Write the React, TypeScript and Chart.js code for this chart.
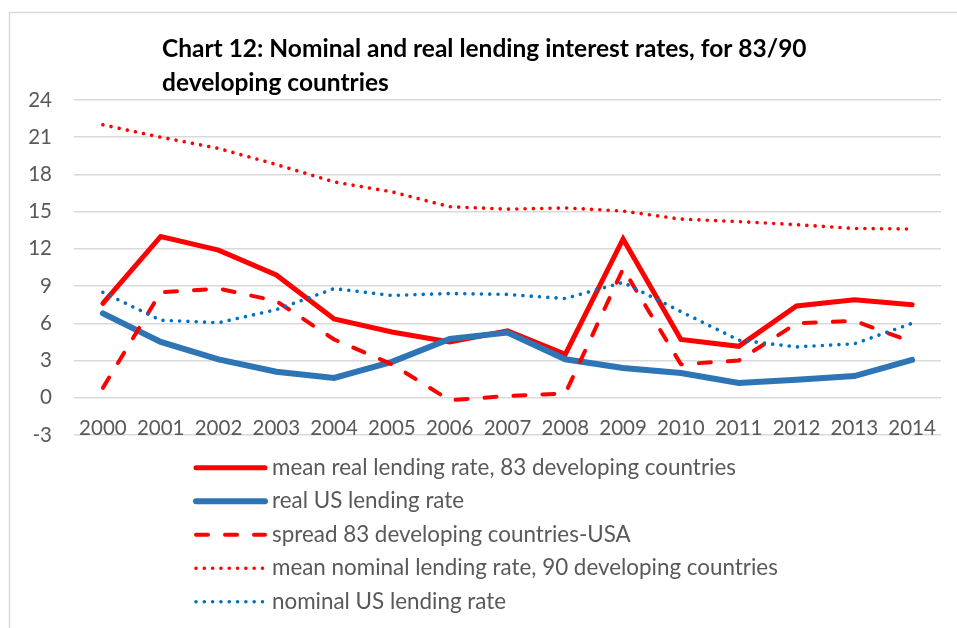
import { useEffect, useRef } from "react";
import { Chart, registerables } from "chart.js";

Chart.register(...registerables);

const years = ["2000", "2001", "2002", "2003", "2004", "2005", "2006", "2007", "2008", "2009", "2010", "2011", "2012", "2013", "2014"];
const meanRealDev = [7.6, 13.0, 11.9, 9.9, 6.35, 5.3, 4.5, 5.4, 3.5, 12.8, 4.7, 4.15, 7.4, 7.9, 7.5];
const realUS = [6.8, 4.5, 3.1, 2.1, 1.6, 2.9, 4.75, 5.25, 3.1, 2.4, 2.0, 1.2, 1.45, 1.75, 3.05];
const spreadDevUS = [0.8, 8.5, 8.8, 7.8, 4.7, 2.7, -0.2, 0.15, 0.35, 10.4, 2.7, 3.0, 6.0, 6.2, 4.5];
const meanNominalDev = [22.0, 21.0, 20.1, 18.8, 17.4, 16.6, 15.4, 15.2, 15.3, 15.05, 14.4, 14.2, 13.95, 13.65, 13.6];
const nominalUS = [8.5, 6.25, 6.05, 7.1, 8.8, 8.25, 8.4, 8.33, 8.0, 9.3, 6.95, 4.65, 4.1, 4.35, 6.0];

const seriesNames = [
  "mean real lending rate, 83 developing countries",
  "real US lending rate",
  "spread 83 developing countries-USA",
  "mean nominal lending rate, 90 developing countries",
  "nominal US lending rate",
];
const titleLines = ["Chart 12: Nominal and real lending interest rates, for 83/90", "developing countries"];
const yMin = -3;
const yMax = 24;
const yStep = 3;

const FONT = "Lato, 'Open Sans', sans-serif";

const decorPlugin = {
  id: "decor",
  beforeDraw(chart: any) {
    const ctx = chart.ctx;
    ctx.save();
    ctx.fillStyle = "#ffffff";
    ctx.fillRect(0, 0, chart.width, chart.height);
    ctx.strokeStyle = "#D9D9D9";
    ctx.lineWidth = 1.5;
    ctx.strokeRect(9.5, 12.5, 1100, 1100);
    ctx.restore();
  },
  afterDraw(chart: any) {
    const ctx = chart.ctx;
    ctx.save();
    // title
    ctx.fillStyle = "#000000";
    ctx.font = `bold 24.5px ${FONT}`;
    ctx.textAlign = "left";
    ctx.textBaseline = "alphabetic";
    ctx.fillText(titleLines[0], 162, 57);
    ctx.fillText(titleLines[1], 162, 91);
    // legend
    const rowY0 = 467.7;
    const rowStep = 33.5;
    chart.data.datasets.forEach((ds: any, i: number) => {
      const y = rowY0 + i * rowStep;
      ctx.save();
      ctx.strokeStyle = ds.borderColor;
      ctx.lineWidth = ds.borderWidth;
      ctx.lineCap = ds.borderCapStyle || "butt";
      ctx.setLineDash(ds.borderDash || []);
      ctx.beginPath();
      ctx.moveTo(196, y);
      ctx.lineTo(265, y);
      ctx.stroke();
      ctx.restore();
      ctx.fillStyle = "#595959";
      ctx.font = `22.4px ${FONT}`;
      ctx.textAlign = "left";
      ctx.textBaseline = "middle";
      ctx.fillText(ds.label, 272, y);
    });
    ctx.restore();
  },
};

export default function App() {
  const ref = useRef<HTMLCanvasElement>(null);
  useEffect(() => {
    if (!ref.current) return;
    const chart = new Chart(ref.current, {
      type: "line",
      data: {
        labels: years,
        datasets: [
          {
            label: seriesNames[0],
            data: meanRealDev,
            borderColor: "#FF0000",
            backgroundColor: "#FF0000",
            borderWidth: 5,
            borderCapStyle: "round",
            pointRadius: 0,
            order: 5,
          },
          {
            label: seriesNames[1],
            data: realUS,
            borderColor: "#2E75B6",
            backgroundColor: "#2E75B6",
            borderWidth: 6,
            borderCapStyle: "round",
            pointRadius: 0,
            order: 4,
          },
          {
            label: seriesNames[2],
            data: spreadDevUS,
            borderColor: "#FF0000",
            backgroundColor: "#FF0000",
            borderWidth: 4,
            borderDash: [12, 17],
            borderCapStyle: "round",
            pointRadius: 0,
            order: 3,
          },
          {
            label: seriesNames[3],
            data: meanNominalDev,
            borderColor: "#FF0000",
            backgroundColor: "#FF0000",
            borderWidth: 3.6,
            borderDash: [0.01, 8.3],
            borderCapStyle: "round",
            pointRadius: 0,
            order: 2,
          },
          {
            label: seriesNames[4],
            data: nominalUS,
            borderColor: "#0070C0",
            backgroundColor: "#0070C0",
            borderWidth: 3.6,
            borderDash: [0.01, 8.3],
            borderCapStyle: "round",
            pointRadius: 0,
            order: 1,
          },
        ],
      },
      options: {
        animation: false,
        responsive: false,
        layout: { padding: { left: 0, right: 16, top: 100, bottom: 173 } },
        plugins: {
          legend: { display: false },
          title: { display: false },
          tooltip: { enabled: false },
        },
        scales: {
          x: {
            offset: true,
            grid: { display: false, drawTicks: false },
            border: { display: false },
            ticks: {
              color: "#595959",
              font: { family: FONT, size: 20.5 },
              mirror: true,
              padding: -6,
              maxRotation: 0,
              autoSkip: false,
            },
            afterFit: (s: any) => {
              s.height = 20;
            },
          },
          y: {
            min: yMin,
            max: yMax,
            grid: { color: "#D9D9D9", lineWidth: 1.5, drawTicks: false },
            border: { display: false },
            ticks: {
              stepSize: yStep,
              color: "#595959",
              font: { family: FONT, size: 20.5 },
              padding: 22,
            },
            afterFit: (s: any) => {
              s.width = 74;
            },
          },
        },
      },
      plugins: [decorPlugin],
    });
    return () => chart.destroy();
  }, []);
  return (
    <div style={{ position: "absolute", left: 0, top: 0, width: 957, height: 628 }}>
      <canvas ref={ref} width={957} height={628} />
    </div>
  );
}
